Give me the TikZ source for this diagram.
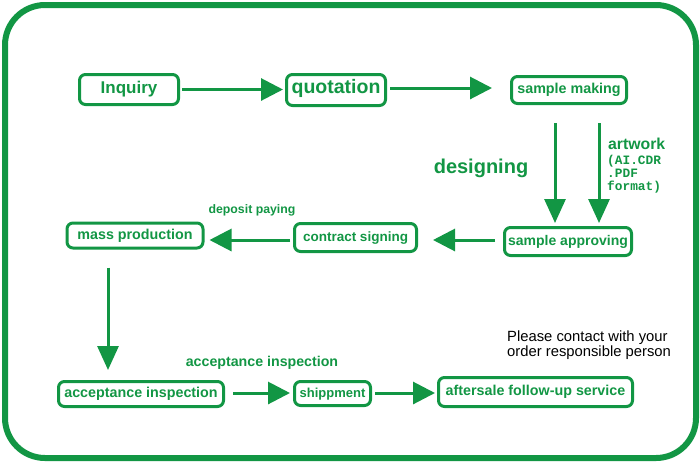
\documentclass[tikz,border=0pt]{standalone}
\usepackage{fontspec}
\setmainfont{Liberation Sans}
\newfontfamily\monof{Liberation Mono}
\usetikzlibrary{arrows.meta}
\definecolor{gr}{RGB}{18,150,68}
\newcommand{\fs}[1]{\fontsize{#1}{#1}\selectfont}
\tikzset{
  box/.style={draw=gr, line width=3pt, rounded corners=6pt, text=gr, font=\bfseries, inner sep=0pt, text height=0.72em, text depth=0pt},
  arr/.style={draw=gr, line width=3pt, -{Triangle[length=22pt,width=22pt]}},
  varr/.style={draw=gr, line width=3pt, -{Triangle[length=24pt,width=21pt]}},
  lbl/.style={text=gr, font=\bfseries, inner sep=0pt},
}
\begin{document}
\begin{tikzpicture}[x=1pt,y=-1pt]
\useasboundingbox (0,0) rectangle (700,464);
\draw[gr, line width=6pt, rounded corners=40pt] (5,5) rectangle (696,458);

\node[box, minimum width=99pt, minimum height=30pt, font=\bfseries\fs{17}] (inq) at (129,89.5) {Inquiry};
\node[box, minimum width=99pt, minimum height=31pt, font=\bfseries\fs{19.5}] (quo) at (336,90) {quotation};
\node[box, minimum width=115pt, minimum height=27pt, font=\bfseries\fs{14.3}] (smk) at (569,90) {sample making};
\node[box, minimum width=127pt, minimum height=28pt, font=\bfseries\fs{14}] (sap) at (568,241.5) {sample approving};
\node[box, minimum width=122pt, minimum height=28pt, font=\bfseries\fs{13.5}] (con) at (355.5,237.5) {contract signing};
\node[box, minimum width=136pt, minimum height=25pt, font=\bfseries\fs{14.3}] (mas) at (135,235.5) {mass production};
\node[box, minimum width=165pt, minimum height=25pt, font=\bfseries\fs{14.3}] (acc) at (141,394) {acceptance inspection};
\node[box, minimum width=76pt, minimum height=24pt, font=\bfseries\fs{13}] (shp) at (332.5,393.5) {shippment};
\node[box, minimum width=194pt, minimum height=29pt, font=\bfseries\fs{14.3}] (aft) at (535.5,392) {aftersale follow-up service};

\draw[arr, shorten <=2pt, shorten >=2pt] (inq.east) -- (inq.east -| quo.west);
\draw[arr, shorten <=3pt, shorten >=18pt] ([yshift=2pt]quo.east) -- ([yshift=2pt]quo.east -| smk.west);
\draw[varr, shorten <=18pt, shorten >=3pt] ([xshift=-14pt]smk.south) -- ([xshift=-14pt]smk.south |- sap.north);
\draw[varr, shorten <=18pt, shorten >=3pt] ([xshift=30pt]smk.south) -- ([xshift=30pt]smk.south |- sap.north);
\draw[arr, shorten <=8pt, shorten >=15pt] (sap.west |- 0,240) -- (con.east |- 0,240);
\draw[arr, shorten <=3pt, shorten >=5pt] (con.west |- 0,240) -- (mas.east |- 0,240);
\draw[varr, shorten <=18pt, shorten >=10pt] ([xshift=-27pt]mas.south) -- ([xshift=-27pt]mas.south |- acc.north);
\draw[arr, shorten <=8pt, shorten >=3pt] (acc.east |- 0,393) -- (shp.west |- 0,393);
\draw[arr, shorten <=3pt, shorten >=2pt] (shp.east |- 0,393) -- (aft.west |- 0,393);

\node[lbl, font=\bfseries\fs{20}] (dsg) at (481,168) {designing};
\node[lbl, anchor=west, font=\bfseries\fs{15.8}] (art) at (608,144) {artwork};
\node[lbl, anchor=north west, font=\monof\bfseries\fs{12.8}, align=left] (fmt) at (607,155) {\baselineskip=12.5pt (AI.CDR\\.PDF\\format)};
\node[lbl, font=\bfseries\fs{12.3}] (dep) at (252,210) {deposit paying};
\node[lbl, font=\bfseries\fs{14.2}] (acl) at (262,363) {acceptance inspection};
\node[anchor=north west, inner sep=0pt, align=left, font=\fs{14.8}, text=black] (pc) at (507,331) {\baselineskip=16pt Please contact with your\\order responsible person};
\end{tikzpicture}
\end{document}
